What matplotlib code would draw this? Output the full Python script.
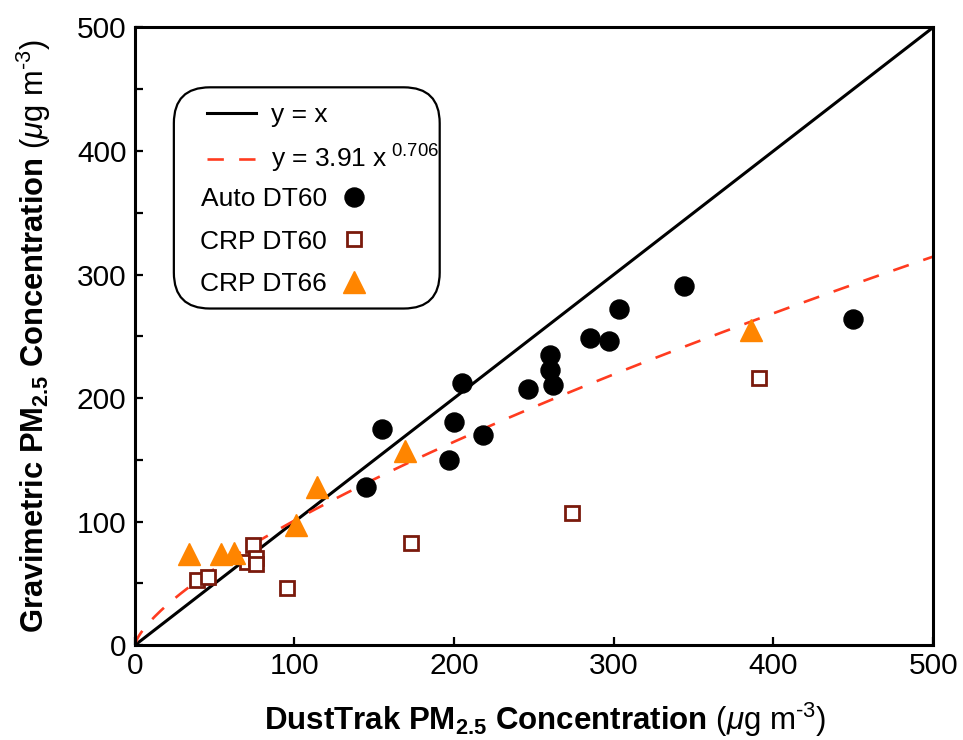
import matplotlib
matplotlib.use("Agg")
import matplotlib.pyplot as plt
import matplotlib.patches as mpatches
import numpy as np

plt.rcParams['font.family'] = ['Liberation Sans', 'DejaVu Sans']
plt.rcParams['mathtext.fontset'] = 'custom'
plt.rcParams['mathtext.rm'] = 'Liberation Sans'
plt.rcParams['mathtext.it'] = 'Liberation Sans:italic'
plt.rcParams['mathtext.bf'] = 'Liberation Sans:bold'

# Auto DT60 (DustTrak vs gravimetric, ug m-3)
auto_x = [145, 155, 197, 200, 205, 218, 246, 260, 260, 262, 285, 297, 303, 344, 450]
auto_y = [128, 175, 150, 181, 212, 170, 207, 235, 223, 211, 249, 246, 272, 291, 264]

# CRP DT60
crp60_x = [39, 46, 70, 74, 76, 76, 95, 173, 274, 391]
crp60_y = [53, 55, 67, 81, 71, 66, 46, 83, 107, 216]

# CRP DT66
crp66_x = [34, 54, 62, 101, 114, 169, 386]
crp66_y = [74, 74, 75, 97, 128, 157, 255]

# power fit  y = a x^b
fit_a = 3.91
fit_b = 0.706

lim = [0, 500]

fig = plt.figure(figsize=(9.63, 7.4), dpi=100)
ax = fig.add_axes([0.140, 0.128, 0.829, 0.835])

xs = np.linspace(lim[0], lim[1], 400)
l1, = ax.plot(lim, lim, color='black', lw=2.2, zorder=2, label='y = x')
l2, = ax.plot(xs, fit_a * xs ** fit_b, color='#FF3B1F', lw=1.9, zorder=2,
              label=r'y = 3.91 x$^{\ 0.706}$')
l2.set_dashes((6.2, 5.8))

p1, = ax.plot(auto_x, auto_y, 'o', ms=13.7, color='black', zorder=3,
              label='Auto DT60')
p2, = ax.plot(crp60_x, crp60_y, 's', ms=10.5, mfc='white', mec='#7A1A0C',
              mew=2.0, zorder=3, label='CRP DT60')
p3, = ax.plot(crp66_x, crp66_y, '^', ms=16, color='#FF8500', zorder=4,
              label='CRP DT66')

ax.set_xlim(lim)
ax.set_ylim(lim)
ax.set_xticks(np.arange(0, 501, 100))
ax.set_yticks(np.arange(0, 501, 100))
ax.set_yticks(np.arange(50, 500, 100), minor=True)
ax.tick_params(which='both', direction='in', length=5.5, width=1.6,
               top=False, right=False, labelsize=21.5)
ax.tick_params(axis='x', pad=5)
ax.tick_params(axis='y', pad=6)
for sp in ax.spines.values():
    sp.set_linewidth(2.2)

ax.set_xlabel(r'$\mathbf{DustTrak\ PM_{2.5}\ Concentration}$ ($\mu$g m$^{\text{-}3}$)',
              fontsize=22.5)
ax.set_ylabel(r'$\mathbf{Gravimetric\ PM_{2.5}\ Concentration}$ ($\mu$g m$^{\text{-}3}$)',
              fontsize=22.2)
ax.xaxis.set_label_coords(0.514, -0.089)
ax.yaxis.set_label_coords(-0.102, 0.5)

# rounded legend frame
box = mpatches.FancyBboxPatch((0.0489, 0.545), 0.333, 0.358,
                              boxstyle='round,pad=0,rounding_size=0.045',
                              mutation_aspect=798 / 618,
                              transform=ax.transAxes, fc='white', ec='black',
                              lw=1.6, zorder=5)
ax.add_patch(box)

leg1 = ax.legend(handles=[l1, l2], loc='upper left',
                 bbox_to_anchor=(0.0902, 0.877), frameon=False,
                 fontsize=19, handlelength=1.85, handletextpad=0.58,
                 borderpad=0, borderaxespad=0, labelspacing=0.6)
leg1.set_zorder(6)
ax.add_artist(leg1)

leg2 = ax.legend(handles=[p1, p2, p3], loc='upper left',
                 bbox_to_anchor=(0.0815, 0.741), frameon=False,
                 fontsize=19, markerfirst=False, handlelength=1.0,
                 handletextpad=0.55, borderpad=0, borderaxespad=0,
                 labelspacing=0.69)
leg2.set_zorder(6)

fig.savefig('out.png', dpi=100)
